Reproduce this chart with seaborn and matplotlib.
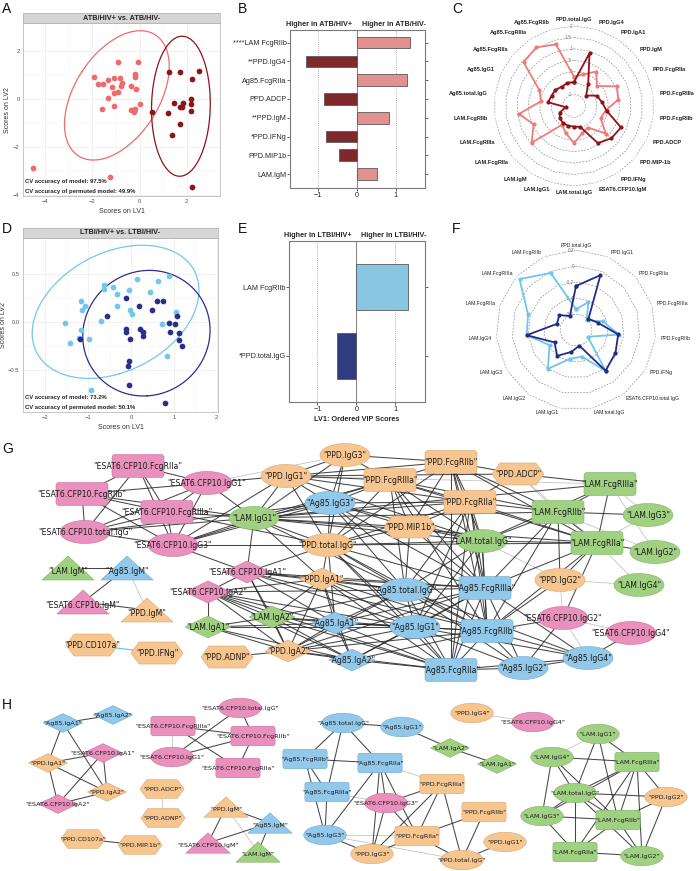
import numpy as np
import pandas as pd
import matplotlib.pyplot as plt
import seaborn as sns
from matplotlib.patches import Ellipse, FancyBboxPatch, Polygon
from matplotlib.collections import LineCollection

W, H = 696, 871
sns.set_theme(style="white")
plt.rcParams['font.family'] = ['Liberation Sans', 'DejaVu Sans']

# ---------------- data ----------------
# A: PLS-DA scores, ATB
atb_neg_lv1 = [-4.52, -1.27, -0.93, -0.08, -1.93, -1.76, -1.56, -1.34, -1.10, -0.83, -0.21, -0.18, -1.15,
               -0.79, -0.75, -1.07, -0.93, -0.35, -0.17, -1.34, -1.59, -1.10, -0.37, -0.25, -0.18, 0.04, -0.27]
atb_neg_lv2 = [-2.86, -3.26, 1.56, 1.54, 0.90, 0.63, 0.63, 0.79, 0.88, 0.89, 1.04, 0.93, 0.49,
               0.54, 0.65, 0.26, 0.28, 0.54, 0.42, 0.06, -0.42, -0.29, -0.46, -0.54, -0.40, -0.19, -0.46]
atb_pos_lv1 = [0.55, 1.24, 1.72, 2.54, 2.25, 2.17, 2.18, 2.20, 1.45, 1.83, 1.79, 1.72, 1.20, 1.72, 1.37, 2.21]
atb_pos_lv2 = [-0.54, 1.14, 1.14, 1.18, 0.83, 0.00, -0.22, -0.51, -0.17, -0.17, -0.32, -0.35, -0.60, -1.03, -1.50, -3.67]

# D: PLS-DA scores, LTBI
ltbi_neg_lv1 = [-1.55, -1.42, -1.16, -1.15, -1.07, -1.16, -1.21, -0.99, -0.93, -0.71, -0.63, -0.63, -0.43,
                -0.33, -0.32, -0.05, -0.02, 0.02, 0.14, 0.44, 0.64, 0.89, 0.73, 1.06, 0.85]
ltbi_neg_lv2 = [-0.01, -0.22, 0.22, 0.13, 0.17, -0.08, -0.16, -0.18, -0.70, 0.01, 0.38, 0.34, 0.36,
                0.29, 0.17, 0.33, 0.13, 0.08, 0.45, 0.31, 0.43, 0.48, -0.02, 0.10, -0.35]
ltbi_pos_lv1 = [-1.19, -0.57, -0.11, -0.11, -0.11, -0.02, -0.05, -0.07, -0.05, 0.18, 0.22, 0.27,
                0.29, 0.48, 0.60, 0.75, 0.88, 0.91, 1.02, 1.07, 1.12, 1.12, 1.20, 0.80]
ltbi_pos_lv2 = [-0.17, 0.06, 0.25, -0.07, -0.10, -0.18, -0.40, -0.45, -0.65, 0.17, -0.07, -0.10,
                -0.14, 0.12, 0.22, 0.22, -0.01, -0.10, -0.02, 0.06, -0.11, -0.19, -0.25, -0.84]

# B / E: VIP scores
b_features = ["****LAM FcgRIIb", "**PPD.IgG4", "Ag85.FcgRIIa", "PPD.ADCP",
              "**PPD.IgM", "*PPD.IFNg", "PPD.MIP1b", "LAM.IgM"]
b_vip = [1.38, -1.31, 1.30, -0.85, 0.84, -0.81, -0.47, 0.53]
e_features = ["LAM FcgRIIb", "*PPD.total.IgG"]
e_vip = [1.33, -0.51]

# C / F: radar profiles
c_features = ["PPD.total.IgG", "PPD.IgG4", "PPD.IgA1", "PPD.IgM", "PPD.FcgRIIa", "PPD.FcgRIIIa",
              "PPD.FcgRIIb", "PPD.ADCP", "PPD.MIP-1b", "PPD.IFNg", "ESAT6.CFP10.IgM", "LAM.total.IgG",
              "LAM.IgG1", "LAM.IgM", "LAM.FcgRIIa", "LAM.FcgRIIIa", "LAM.FcgRIIb", "Ag85.total.IgG",
              "Ag85.IgG1", "Ag85.FcgRIIa", "Ag85.FcgRIIIa", "Ag85.FcgRIIb"]
c_hiv_neg = [-0.22, -0.06, 0.29, -0.17, 0.57, 0.45, -0.10, -0.22, 0.34, -0.38, -0.25, 0.13,
             -0.26, -0.52, 0.95, 0.44, 0.93, -0.04, 0.16, 1.42, 1.55, 1.31]
c_hiv_pos = [-0.45, 0.91, -0.35, -0.80, -0.41, -0.27, -0.06, 0.76, 0.66, 0.43, -0.55, -0.60,
             -0.60, -0.61, -0.68, -0.81, -1.14, -0.35, -0.42, -0.42, -0.50, -0.45]
c_levels = [2, 1.5, 1, 0.5, 0, -0.5, -1]
c_level_labels = ["2", "1.5", "1", ".5", "0", "-.5", "-1"]

f_features = ["PPD.total.IgG", "PPD.IgG1", "PPD.FcgRIIa", "PPD.FcgRIIIa", "PPD.FcgRIIb", "PPD.IFNg",
              "ESAT6.CFP10.total.IgG", "LAM.total.IgG", "LAM.IgG1", "LAM.IgG2", "LAM.IgG3",
              "LAM.IgG4", "LAM.FcgRIIa", "LAM.FcgRIIIa", "LAM.FcgRIIb"]
f_hiv_neg = [-0.54, -0.42, -0.62, -0.45, -0.26, -0.63, -0.17, -0.46, -0.43, -0.20, -0.42, -0.18, -0.17, 0.15, -0.02]
f_hiv_pos = [-0.25, -0.05, -0.59, -0.51, -0.27, -0.23, -0.17, -0.60, -0.52, -0.40, -0.49, -0.18, -0.55, -0.52, -0.61]
f_levels = [0.2, 0, -0.2, -0.4, -0.6]
f_level_labels = ["0.2", "0", "-0.2", "-0.4", "-0.6"]

# G / H: correlation networks (node layout in figure pixels)
antigen_names = {"P": "PPD", "A": "Ag85", "L": "LAM", "E": "ESAT6.CFP10"}
g_layout = {
    "E.FcgRIIa": (138, 466), "E.FcgRIIb": (82, 494), "E.IgG1": (207, 483), "E.FcgRIIIa": (167, 512),
    "E.total.IgG": (85, 532), "E.IgG3": (173, 545), "L.IgG1": (254, 518), "P.IgG1": (286, 476),
    "P.IgG3": (345, 455), "A.IgG3": (330, 503), "P.total.IgG": (328, 545), "L.IgM": (68, 568),
    "A.IgM": (127, 568), "E.IgM": (83, 602), "P.IgM": (147, 610), "E.IgA1": (247, 572),
    "P.IgA1": (322, 579), "E.IgA2": (208, 592), "L.IgA1": (208, 627), "L.IgA2": (272, 617),
    "A.IgA1": (335, 623), "A.total.IgG": (405, 590), "A.IgG1": (415, 627), "A.FcgRIIIa": (485, 588),
    "A.FcgRIIb": (487, 631), "P.MIP.1b": (410, 527), "L.total.IgG": (482, 541), "P.FcgRIIIa": (390, 480),
    "P.FcgRIIb": (451, 462), "P.FcgRIIa": (470, 502), "P.ADCP": (518, 474), "L.FcgRIIIa": (610, 484),
    "L.FcgRIIb": (558, 512), "L.IgG3": (648, 515), "L.FcgRIIa": (597, 543), "L.IgG2": (655, 552),
    "P.IgG2": (560, 580), "L.IgG4": (639, 585), "E.IgG2": (563, 618), "E.IgG4": (631, 633),
    "A.IgG4": (588, 658), "A.IgG2": (523, 668), "A.FcgRIIa": (451, 670), "A.IgA2": (352, 660),
    "P.IgA2": (288, 651), "P.ADNP": (227, 657), "P.CD107a": (92, 645), "P.IFNg": (157, 653),
}
g_edges = """
E.FcgRIIa E.FcgRIIb; E.FcgRIIa E.IgG1; E.FcgRIIa E.FcgRIIIa; E.FcgRIIa E.total.IgG; E.FcgRIIa E.IgG3
E.FcgRIIb E.total.IgG; E.FcgRIIb E.IgG1; E.FcgRIIb E.FcgRIIIa; E.FcgRIIb E.IgG3; E.FcgRIIb L.IgG1
E.IgG1 E.FcgRIIIa; E.IgG1 E.total.IgG; E.IgG1 E.IgG3; E.IgG1 P.IgG1; E.IgG1 L.IgG1; E.IgG1 P.IgG3~
E.FcgRIIIa E.total.IgG; E.FcgRIIIa E.IgG3; E.FcgRIIIa L.IgG1; E.FcgRIIIa P.total.IgG
E.total.IgG E.IgG3; E.total.IgG L.IgG1; E.total.IgG A.IgG3; E.IgG3 L.IgG1; E.IgG3 P.total.IgG
E.IgG3 A.IgG3; E.IgG3 P.IgG1; E.IgG3 E.IgA1; E.IgG3 P.FcgRIIIa
L.IgM A.IgM; A.IgM E.IgM; A.IgM P.IgM~; E.IgM P.IgM; P.ADNP P.IgA2
P.IgG1 P.IgG3; P.IgG1 A.IgG3; P.IgG1 L.IgG1; P.IgG1 P.FcgRIIIa; P.IgG1 P.FcgRIIb; P.IgG1 P.FcgRIIa
P.IgG1 P.total.IgG; P.IgG1 L.total.IgG; P.IgG1 L.FcgRIIIa~; P.IgG1 P.ADCP
P.IgG3 P.FcgRIIIa; P.IgG3 P.FcgRIIb; P.IgG3 A.IgG3; P.IgG3 P.total.IgG; P.IgG3 L.IgG1
A.IgG3 L.IgG1; A.IgG3 P.FcgRIIIa; A.IgG3 P.total.IgG; A.IgG3 P.FcgRIIa; A.IgG3 A.total.IgG
A.IgG3 A.FcgRIIIa; A.IgG3 A.FcgRIIb; A.IgG3 L.total.IgG
L.IgG1 P.total.IgG; L.IgG1 P.FcgRIIIa; L.IgG1 P.FcgRIIa; L.IgG1 L.total.IgG; L.IgG1 P.MIP.1b
L.IgG1 A.total.IgG; L.IgG1 L.FcgRIIIa; L.IgG1 L.FcgRIIb; L.IgG1 L.FcgRIIa; L.IgG1 P.IgA1; L.IgG1 E.IgA1
P.total.IgG P.FcgRIIIa; P.total.IgG P.FcgRIIa; P.total.IgG P.FcgRIIb; P.total.IgG L.total.IgG
P.total.IgG P.MIP.1b; P.total.IgG A.total.IgG; P.total.IgG A.FcgRIIIa; P.total.IgG A.IgG1
P.total.IgG A.FcgRIIb; P.total.IgG L.FcgRIIa; P.total.IgG P.IgA1; P.total.IgG A.IgA1
P.total.IgG E.IgA1; P.total.IgG A.FcgRIIa
P.FcgRIIIa P.FcgRIIb; P.FcgRIIIa P.FcgRIIa; P.FcgRIIIa P.MIP.1b; P.FcgRIIIa L.total.IgG
P.FcgRIIIa L.FcgRIIb; P.FcgRIIIa A.FcgRIIIa; P.FcgRIIIa A.FcgRIIb; P.FcgRIIIa A.total.IgG; P.FcgRIIIa L.FcgRIIa
P.FcgRIIb P.FcgRIIa; P.FcgRIIb P.ADCP; P.FcgRIIb L.FcgRIIb; P.FcgRIIb L.total.IgG; P.FcgRIIb A.FcgRIIIa
P.FcgRIIb A.FcgRIIb; P.FcgRIIb P.MIP.1b; P.FcgRIIb L.FcgRIIa; P.FcgRIIb A.FcgRIIa
P.FcgRIIa P.ADCP; P.FcgRIIa L.FcgRIIb; P.FcgRIIa L.FcgRIIa; P.FcgRIIa L.total.IgG; P.FcgRIIa P.MIP.1b
P.FcgRIIa A.FcgRIIIa; P.FcgRIIa A.FcgRIIb; P.FcgRIIa A.total.IgG; P.FcgRIIa A.FcgRIIa; P.FcgRIIa A.IgG1
P.ADCP L.FcgRIIIa; P.ADCP L.FcgRIIb~; P.ADCP L.FcgRIIa~
L.FcgRIIIa L.FcgRIIb; L.FcgRIIIa L.FcgRIIa; L.FcgRIIIa L.IgG3~; L.FcgRIIIa L.total.IgG; L.FcgRIIIa L.IgG2~
L.FcgRIIb L.IgG3; L.FcgRIIb L.FcgRIIa; L.FcgRIIb L.total.IgG; L.FcgRIIb A.FcgRIIIa; L.FcgRIIb A.FcgRIIb
L.FcgRIIb P.IgG2; L.FcgRIIb L.IgG2~
L.FcgRIIa L.IgG3~; L.FcgRIIa L.IgG2; L.FcgRIIa L.total.IgG; L.FcgRIIa P.IgG2; L.FcgRIIa L.IgG4~
L.FcgRIIa A.FcgRIIIa; L.FcgRIIa A.FcgRIIb; L.FcgRIIa E.IgG2
L.total.IgG P.MIP.1b; L.total.IgG A.total.IgG; L.total.IgG A.FcgRIIIa; L.total.IgG A.FcgRIIb
L.total.IgG A.IgG1; L.total.IgG A.FcgRIIa; L.total.IgG P.IgG2~
P.IgG2 L.IgG4~; P.IgG2 E.IgG2~; P.IgG2 A.FcgRIIb
E.IgG2 E.IgG4~; E.IgG2 A.IgG4~; E.IgG2 A.FcgRIIb; E.IgG2 A.IgG2; E.IgG4 A.IgG4
E.IgA1 P.IgA1; E.IgA1 E.IgA2; E.IgA1 A.total.IgG; E.IgA1 A.IgA1; E.IgA1 L.IgA2; E.IgA1 A.IgG1
E.IgA1 A.FcgRIIIa; E.IgA1 A.FcgRIIb; E.IgA1 P.IgA2
P.IgA1 E.IgA2; P.IgA1 A.total.IgG; P.IgA1 A.IgA1; P.IgA1 L.IgA2; P.IgA1 A.IgG1; P.IgA1 A.FcgRIIIa
P.IgA1 A.FcgRIIb; P.IgA1 A.FcgRIIa; P.IgA1 P.IgA2; P.IgA1 A.IgA2
E.IgA2 L.IgA1; E.IgA2 L.IgA2; E.IgA2 A.total.IgG; E.IgA2 A.IgA1; E.IgA2 A.IgG1; E.IgA2 A.IgA2
E.IgA2 A.FcgRIIa; E.IgA2 P.IgA2
L.IgA1 L.IgA2; L.IgA1 A.IgA1; L.IgA1 P.IgA2; L.IgA1 A.IgA2; L.IgA1 A.IgG1
L.IgA2 A.IgA1; L.IgA2 A.total.IgG; L.IgA2 P.IgA2; L.IgA2 A.IgA2; L.IgA2 A.IgG1; L.IgA2 A.FcgRIIa
A.IgA1 A.total.IgG; A.IgA1 A.IgG1; A.IgA1 A.FcgRIIIa; A.IgA1 A.FcgRIIb; A.IgA1 A.FcgRIIa
A.IgA1 P.IgA2; A.IgA1 A.IgA2
A.total.IgG A.IgG1; A.total.IgG A.FcgRIIIa; A.total.IgG A.FcgRIIb; A.total.IgG A.FcgRIIa
A.total.IgG A.IgG2; A.total.IgG A.IgG4; A.total.IgG P.IgA2
A.IgG1 A.FcgRIIIa; A.IgG1 A.FcgRIIb; A.IgG1 A.FcgRIIa; A.IgG1 A.IgG2; A.IgG1 A.IgG4; A.IgG1 P.IgA2; A.IgG1 A.IgA2
A.FcgRIIIa A.FcgRIIb; A.FcgRIIIa A.FcgRIIa; A.FcgRIIIa A.IgG2; A.FcgRIIIa A.IgG4; A.FcgRIIIa A.IgA2
A.FcgRIIb A.FcgRIIa; A.FcgRIIb A.IgG2; A.FcgRIIb A.IgG4; A.FcgRIIb A.IgA2; A.FcgRIIb P.IgA2
A.FcgRIIa A.IgG2; A.FcgRIIa A.IgG4; A.FcgRIIa A.IgA2; A.FcgRIIa P.IgA2; A.IgG2 A.IgG4
P.IgA2 A.IgA2; P.IgA2 A.FcgRIIIa; P.MIP.1b A.total.IgG; P.MIP.1b A.FcgRIIIa; P.MIP.1b A.IgG3
"""
g_blue_edges = [("P.CD107a", "P.IFNg")]

h_layout = {
    "A.IgA1": (63, 723), "A.IgA2": (113, 715), "P.IgA1": (48, 763), "E.IgA1": (103, 753),
    "P.IgA2": (107, 792), "E.IgA2": (58, 804), "E.total.IgG": (240, 708), "E.FcgRIIIa": (173, 726),
    "E.FcgRIIb": (253, 736), "E.IgG1": (172, 757), "E.FcgRIIa": (238, 768), "P.ADCP": (162, 789),
    "P.ADNP": (163, 818), "P.CD107a": (83, 839), "P.MIP.1b": (140, 845), "P.IgM": (226, 807),
    "A.IgM": (270, 823), "E.IgM": (208, 843), "L.IgM": (258, 852), "A.total.IgG": (343, 723),
    "A.IgG1": (402, 727), "A.FcgRIIb": (305, 759), "A.FcgRIIa": (380, 763), "A.FcgRIIIa": (327, 792),
    "A.IgG3": (325, 835), "E.IgG3": (386, 803), "P.FcgRIIIa": (442, 784), "P.FcgRIIb": (484, 812),
    "P.FcgRIIa": (417, 836), "P.IgG3": (372, 854), "P.total.IgG": (462, 860), "P.IgG1": (505, 842),
    "P.IgG4": (472, 713), "E.IgG4": (533, 722), "L.IgA2": (450, 748), "L.IgA1": (497, 764),
    "L.IgG1": (598, 734), "L.IgG4": (552, 757), "L.FcgRIIIa": (637, 762), "L.total.IgG": (575, 793),
    "P.IgG2": (666, 797), "L.IgG3": (542, 816), "L.FcgRIIb": (618, 820), "L.FcgRIIa": (575, 852),
    "L.IgG2": (642, 856),
}
h_edges = """
A.IgA1 A.IgA2; A.IgA1 P.IgA1; A.IgA1 P.IgA2; P.IgA1 E.IgA1; P.IgA1 P.IgA2; P.IgA1 E.IgA2
E.IgA1 P.IgA2; E.IgA1 E.IgA2; E.IgA2 P.IgA2
E.total.IgG E.FcgRIIb; E.total.IgG E.IgG1; E.FcgRIIIa E.IgG1~; E.FcgRIIIa E.FcgRIIb; E.FcgRIIIa E.FcgRIIa
E.IgG1 E.FcgRIIb; E.FcgRIIb E.FcgRIIa; P.ADCP P.ADNP~; P.CD107a P.MIP.1b
P.IgM A.IgM; P.IgM E.IgM; E.IgM A.IgM; A.IgM L.IgM; P.IgM L.IgM~
A.total.IgG A.IgG1; A.total.IgG A.FcgRIIb; A.total.IgG A.FcgRIIIa; A.total.IgG A.FcgRIIa
A.FcgRIIb A.FcgRIIa; A.FcgRIIb A.FcgRIIIa; A.FcgRIIb A.IgG3; A.FcgRIIIa A.IgG3; A.FcgRIIa A.IgG3
A.FcgRIIa E.IgG3; A.FcgRIIa P.IgG3; A.FcgRIIa P.FcgRIIa; A.FcgRIIa P.FcgRIIIa~; A.IgG3 P.IgG3
A.IgG3 P.FcgRIIa~; A.FcgRIIIa E.IgG3~; A.IgG3 P.total.IgG~
E.IgG3 P.FcgRIIIa; E.IgG3 P.IgG3; E.IgG3 P.FcgRIIa; P.FcgRIIIa P.FcgRIIa; P.FcgRIIIa P.total.IgG
P.FcgRIIIa P.IgG3; P.FcgRIIb P.FcgRIIa; P.FcgRIIb P.total.IgG; P.FcgRIIa P.IgG3; P.FcgRIIa P.total.IgG
P.total.IgG P.IgG1; A.IgG1 L.IgA2; L.IgA2 L.IgA1; P.IgG4 E.IgG4~
L.IgG1 L.FcgRIIIa; L.IgG1 L.total.IgG; L.IgG1 L.FcgRIIb; L.IgG1 L.IgG4~; L.IgG4 L.FcgRIIIa
L.IgG4 L.total.IgG; L.IgG4 L.IgG3; L.IgG4 L.FcgRIIb; L.FcgRIIIa L.total.IgG; L.FcgRIIIa L.IgG3
L.FcgRIIIa L.FcgRIIb; L.FcgRIIIa P.IgG2; L.FcgRIIIa L.FcgRIIa; L.FcgRIIIa L.IgG2; L.total.IgG P.IgG2
L.total.IgG L.IgG3; L.total.IgG L.FcgRIIb; L.total.IgG L.FcgRIIa; L.total.IgG L.IgG2; L.IgG3 L.FcgRIIb
L.IgG3 L.FcgRIIa; L.FcgRIIb P.IgG2; L.FcgRIIb L.FcgRIIa; L.FcgRIIb L.IgG2; L.FcgRIIa L.IgG2; P.IgG2 L.IgG2
"""

# ---------------- styles ----------------
light_red, dark_red = "#ef6b6b", "#8e1418"
bar_light_red, bar_dark_red = "#f08482", "#8f1a1e"
light_blue, navy = "#72c7ef", "#1e2a78"
node_face = {"P": "#f7c690", "A": "#92c9eb", "L": "#a0d183", "E": "#e990bd"}
node_edge = {"P": "#d9a86f", "A": "#6fa7cc", "L": "#7fb260", "E": "#c96f9c"}

fig = plt.figure(figsize=(W / 100, H / 100), dpi=100)


def box(x0, y0, x1, y1):
    return [x0 / W, 1 - y1 / H, (x1 - x0) / W, (y1 - y0) / H]


def conf_ellipse(x, y, radius=2.45):
    # normal-theory 95% ellipse (chi-square, 2 df)
    x = np.asarray(x)
    y = np.asarray(y)
    vals, vecs = np.linalg.eigh(np.cov(x, y))
    t = np.linspace(0, 2 * np.pi, 240)
    pts = vecs @ (np.sqrt(vals)[:, None] * np.vstack([np.cos(t), np.sin(t)])) * radius
    return x.mean() + pts[0], y.mean() + pts[1]


def score_panel(rect, strip_rect, title, groups, xlim, ylim, xticks, yticks, acc):
    ax = fig.add_axes(box(*rect))
    for xs, ys, col in groups:
        ex, ey = conf_ellipse(xs, ys)
        ax.plot(ex, ey, color=col, lw=0.9)
        sns.scatterplot(x=xs, y=ys, color=col, s=17, linewidth=0, ax=ax, zorder=3)
    ax.set_xlim(*xlim)
    ax.set_ylim(*ylim)
    ax.set_xticks(xticks)
    ax.set_yticks(yticks)
    ax.set_xticks([(a + b) / 2 for a, b in zip(xticks[:-1], xticks[1:])], minor=True)
    ax.set_yticks([(a + b) / 2 for a, b in zip(yticks[:-1], yticks[1:])], minor=True)
    ax.grid(True, which="major", color="#ebebeb", lw=0.5)
    ax.grid(True, which="minor", color="#f4f4f4", lw=0.35)
    ax.set_axisbelow(True)
    ax.tick_params(labelsize=4.2, colors="#555555", length=1.5, width=0.4, pad=1)
    for s in ax.spines.values():
        s.set_color("#b0b0b0")
        s.set_linewidth(0.5)
    ax.set_xlabel("Scores on LV1", fontsize=5, labelpad=1, color="#333333")
    ax.set_ylabel("Scores on LV2", fontsize=5, labelpad=1, color="#333333")
    ax.text(0.01, 0.075, "CV accuracy of model: " + acc[0], transform=ax.transAxes,
            fontsize=4.2, fontweight="bold", color="#222222")
    ax.text(0.01, 0.02, "CV accuracy of permuted model: " + acc[1], transform=ax.transAxes,
            fontsize=4.2, fontweight="bold", color="#222222")
    st = fig.add_axes(box(*strip_rect))
    st.set_facecolor("#d6d6d6")
    st.set_xticks([])
    st.set_yticks([])
    for s in st.spines.values():
        s.set_color("#b0b0b0")
        s.set_linewidth(0.5)
    st.text(0.5, 0.5, title, ha="center", va="center", fontsize=5.2, fontweight="bold", color="#222222")
    return ax


score_panel((23, 23, 220, 196), (23, 13, 220, 23), "ATB/HIV+ vs. ATB/HIV-",
            [(atb_neg_lv1, atb_neg_lv2, light_red), (atb_pos_lv1, atb_pos_lv2, dark_red)],
            (-4.95, 3.42), (-4.04, 3.17), [-4, -2, 0, 2], [-4, -2, 0, 2], ("97.5%", "49.9%"))
score_panel((23, 238, 218, 412), (23, 228, 218, 238), "LTBI/HIV+ vs. LTBI/HIV-",
            [(ltbi_neg_lv1, ltbi_neg_lv2, light_blue), (ltbi_pos_lv1, ltbi_pos_lv2, "#2a2f8a")],
            (-2.52, 2.03), (-0.93, 0.87), [-2, -1, 0, 1, 2], [-0.5, 0.0, 0.5], ("73.2%", "50.1%"))


def vip_panel(rect, feats, vals, cols, heads, ylim, width, xlabel=None):
    ax = fig.add_axes(box(*rect))
    df = pd.DataFrame({"feature": feats, "vip": vals})
    df["side"] = np.where(df["vip"] > 0, "neg", "pos")
    sns.barplot(data=df, x="vip", y="feature", hue="side", palette={"neg": cols[0], "pos": cols[1]},
                dodge=False, width=width, edgecolor="#5a5a5a", linewidth=0.6, legend=False, ax=ax, zorder=3)
    ax.set_xlim(-1.73, 1.76)
    ax.set_ylim(*ylim)
    ax.set_xticks([-1, 0, 1])
    ax.axvline(0, color="#8a8a8a", lw=0.8, zorder=1)
    for v in (-1, 1):
        ax.axvline(v, color="#9a9a9a", lw=0.6, ls=(0, (1, 1.5)), zorder=1)
    ax.set_ylabel("")
    ax.set_xlabel(xlabel if xlabel else "", fontsize=5.2, fontweight="bold", labelpad=2)
    ax.tick_params(axis="y", labelsize=5.2, length=2, width=0.5, pad=0.5, direction="out", left=True, right=True)
    ax.tick_params(axis="x", labelsize=5.2, length=2, width=0.5, pad=1, bottom=True)
    for s in ax.spines.values():
        s.set_color("#7a7a7a")
        s.set_linewidth(0.8)
    tr = ax.get_xaxis_transform()
    ax.text(-0.99, 1.015, heads[0], transform=tr, ha="center", va="bottom", fontsize=5.2, fontweight="bold")
    ax.text(0.95, 1.015, heads[1], transform=tr, ha="center", va="bottom", fontsize=5.2, fontweight="bold")
    return ax


vip_panel((290, 30, 425, 188), b_features, b_vip, (bar_light_red, bar_dark_red),
          ("Higher in ATB/HIV+", "Higher in ATB/HIV-"), (7.74, -0.67), 0.62)
vip_panel((289, 241, 425, 402), e_features, e_vip, ("#7accf0", "#24338c"),
          ("Higher in LTBI/HIV+", "Higher in LTBI/HIV-"), (1.67, -0.67), 0.66,
          xlabel="LV1: Ordered VIP Scores")


def radar_panel(center, radius, feats, series, levels, level_labels, rmin, rlab, fs, bold):
    cx, cy = center
    ax = fig.add_axes(box(cx - radius, cy - radius, cx + radius, cy + radius), projection="polar")
    ax.set_theta_zero_location("N")
    ax.set_theta_direction(-1)
    ax.set_rlim(rmin, levels[0])
    ax.grid(False)
    ax.spines["polar"].set_visible(False)
    ax.set_xticks([])
    ax.set_yticks([])
    ax.patch.set_alpha(0)
    n = len(feats)
    theta = np.arange(n) * 2 * np.pi / n
    tc = np.append(theta, theta[0])
    for lv, lab in zip(levels, level_labels):
        ax.plot(tc, [lv] * (n + 1), color="#8c8c8c", lw=0.5, ls=(0, (2.5, 2)))
        ax.annotate(lab, (0, lv), xytext=(-1.5, 0), textcoords="offset points",
                    ha="right", va="center", fontsize=3.4, color="#777777")
    for vals, col in series:
        vc = np.append(vals, vals[0])
        ax.plot(tc, vc, color=col, lw=1.3, marker="o", ms=2, zorder=3)
    for th, name in zip(theta, feats):
        s = np.sin(th)
        ha = "left" if s > 0.15 else ("right" if s < -0.15 else "center")
        ax.text(th, rlab, name, ha=ha, va="center", fontsize=fs,
                fontweight="bold" if bold else "normal", color="#222222")
    return ax


radar_panel((574, 106), 80, c_features, [(c_hiv_neg, "#f07a78"), (c_hiv_pos, "#8e1418")],
            c_levels, c_level_labels, -1.5, 2.3, 4.1, True)
radar_panel((576, 330), 80, f_features, [(f_hiv_neg, "#6cc6ef"), (f_hiv_pos, "#222c86")],
            f_levels, f_level_labels, -0.8, 0.26, 3.7, False)

# ---------------- networks + panel letters ----------------
ov = fig.add_axes([0, 0, 1, 1])
ov.set_xlim(0, W)
ov.set_ylim(H, 0)
ov.axis("off")
ov.patch.set_alpha(0)


def parse_edges(text):
    out = []
    for chunk in text.replace("\n", ";").split(";"):
        chunk = chunk.strip()
        if not chunk:
            continue
        a, b = chunk.split()
        weak = b.endswith("~")
        out.append((a, b.rstrip("~"), weak))
    return out


def node_shape(key):
    feat = key.split(".", 1)[1]
    if "Fcg" in feat:
        return "rect"
    if feat.startswith("IgA"):
        return "diamond"
    if feat == "IgM":
        return "triangle"
    if "IgG" in feat:
        return "ellipse"
    return "hexagon"


def draw_network(layout, edges, scale, fs, extra_edges=()):
    strong = [(layout[a], layout[b]) for a, b, w in edges if not w]
    weak = [(layout[a], layout[b]) for a, b, w in edges if w]
    ov.add_collection(LineCollection(weak, colors="#c4c4c4", linewidths=0.6, zorder=1))
    ov.add_collection(LineCollection(strong, colors="#262626", linewidths=0.75, alpha=0.85, zorder=2))
    if extra_edges:
        ov.add_collection(LineCollection([(layout[a], layout[b]) for a, b in extra_edges],
                                         colors="#6cc6ef", linewidths=0.9, zorder=2))
    for key, (x, y) in layout.items():
        ag = key[0]
        shp = node_shape(key)
        fc, ec = node_face[ag], node_edge[ag]
        kw = dict(facecolor=fc, edgecolor=ec, lw=0.4, zorder=4)
        if shp == "ellipse":
            w, h = 50 * scale, 23 * scale
            p = Ellipse((x, y), w, h, **kw)
        elif shp == "rect":
            w, h = 52 * scale, 23 * scale
            p = FancyBboxPatch((x - w / 2, y - h / 2), w, h,
                               boxstyle="round,pad=0,rounding_size=%.1f" % (3 * scale), **kw)
        elif shp == "diamond":
            w, h = 46 * scale, 22 * scale
            p = Polygon([(x - w / 2, y), (x, y - h / 2), (x + w / 2, y), (x, y + h / 2)], **kw)
        elif shp == "triangle":
            w, h = 52 * scale, 24 * scale
            p = Polygon([(x - w / 2, y + h / 2), (x, y - h / 2), (x + w / 2, y + h / 2)], **kw)
        else:
            w, h = 52 * scale, 22 * scale
            k = 8 * scale
            p = Polygon([(x - w / 2, y), (x - w / 2 + k, y - h / 2), (x + w / 2 - k, y - h / 2),
                         (x + w / 2, y), (x + w / 2 - k, y + h / 2), (x - w / 2 + k, y + h / 2)], **kw)
        ov.add_patch(p)
        ty = y + 3 * scale if shp == "triangle" else y
        label = '"' + antigen_names[ag] + key[1:] + '"'
        ov.text(x, ty, label, ha="center", va="center", fontsize=fs, family="DejaVu Sans",
                color="#1a1a1a", zorder=5)


draw_network(g_layout, parse_edges(g_edges), 1.0, 5.6, g_blue_edges)
draw_network(h_layout, parse_edges(h_edges), 0.85, 4.6)

for letter, (x, y) in {"A": (2, 2), "B": (238, 2), "C": (452, 2), "D": (2, 222),
                       "E": (238, 222), "F": (452, 222), "G": (2, 442), "H": (2, 698)}.items():
    ov.text(x, y, letter, ha="left", va="top", fontsize=10, color="#111111")

fig.savefig("out.png", dpi=100)
